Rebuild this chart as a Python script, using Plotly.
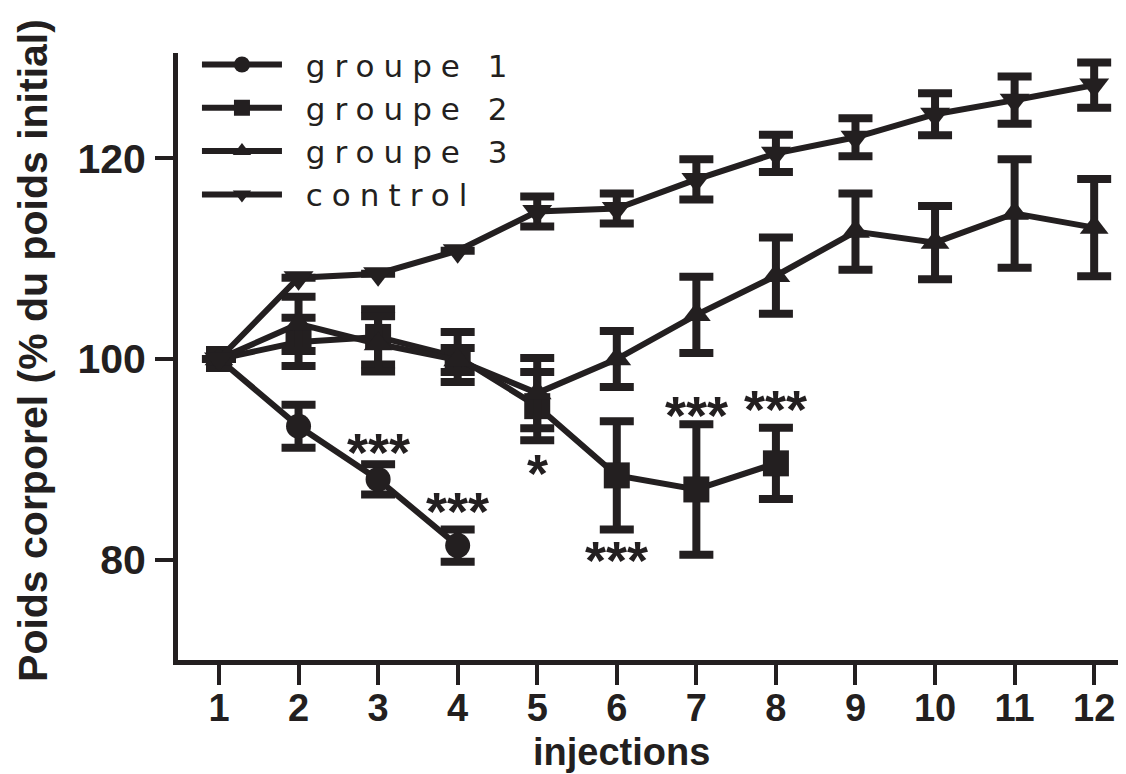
import plotly.graph_objects as go

# ---------------- data ----------------
injections = list(range(1, 13))

groupe1 = [100, 93.3, 88.0, 81.4]
groupe1_sem = [None, 2.15, 1.5, 1.6]

groupe2 = [100, 101.7, 102.2, 100.2, 95.3, 88.4, 87.0, 89.6]
groupe2_sem = [None, 2.4, 2.75, 2.5, 3.4, 5.4, 6.5, 3.55]

groupe3 = [100, 103.5, 101.5, 99.9, 96.6, 100.0, 104.4, 108.3, 112.7, 111.6, 114.5, 113.1]
groupe3_sem = [None, 2.7, 2.75, 1.2, 3.5, 2.8, 3.8, 3.8, 3.8, 3.65, 5.4, 4.85]

control = [100, 108.1, 108.5, 110.8, 114.7, 115.0, 117.9, 120.5, 122.1, 124.4, 125.8, 127.3]
control_sem = [None, None, None, None, 1.5, 1.5, 2.0, 1.85, 1.9, 2.1, 2.35, 2.25]

series_names = ["groupe 1", "groupe 2", "groupe 3", "control"]
y_ticks = [80, 100, 120]

# significance labels
sig_x = [3, 4, 5, 6, 7, 8]
sig_text = ["***", "***", "*", "***", "***", "***"]
sig_y = [90.7, 84.9, 88.6, 80.0, 94.4, 95.0]

# ---------------- style ----------------
INK = "#231f20"
FONT = "Liberation Sans, Arial, sans-serif"

series = [
    (groupe1, groupe1_sem, "circle", 25),
    (groupe2, groupe2_sem, "square", 26),
    (groupe3, groupe3_sem, "triangle-up", 25),
    (control, control_sem, "triangle-down", 26),
]

fig = go.Figure()
for name, (vals, sem, sym, msize) in zip(series_names, series):
    fig.add_trace(go.Scatter(
        x=injections[:len(vals)], y=vals,
        mode="lines+markers",
        name='<span style="letter-spacing:9px">\u00a0' + name + '</span>',
        line=dict(color=INK, width=6),
        marker=dict(symbol=sym, size=msize, color=INK),
        error_y=dict(type="data", array=sem, visible=True, color=INK,
                     thickness=8, width=17),
        cliponaxis=False,
    ))

for x, t, y in zip(sig_x, sig_text, sig_y):
    fig.add_annotation(x=x, y=y, text=t, showarrow=False,
                       font=dict(family=FONT, size=54, color=INK, weight="bold"),
                       xanchor="center", yanchor="middle")

fig.add_annotation(xref="paper", yref="paper", x=0.468, y=-0.1516,
                   text="injections", showarrow=False,
                   font=dict(family=FONT, size=38, color=INK, weight="bold"),
                   xanchor="center", yanchor="middle")
fig.add_annotation(xref="paper", yref="paper", x=-0.153, y=0.5107,
                   text="Poids corporel (% du poids initial)", showarrow=False,
                   textangle=-90,
                   font=dict(family=FONT, size=41, color=INK, weight="bold"),
                   xanchor="center", yanchor="middle")

axis_common = dict(
    showline=True, linecolor=INK, linewidth=5,
    ticks="outside", tickcolor=INK, tickwidth=4,
    showgrid=False, zeroline=False,
)

fig.update_layout(
    width=1126, height=774,
    margin=dict(l=170, r=8, t=45, b=122),
    paper_bgcolor="white", plot_bgcolor="white",
    xaxis=dict(range=[0.485, 12.40], tickvals=injections, ticklen=20,
               ticklabelstandoff=-10,
               tickfont=dict(family=FONT, size=38, color=INK, weight="bold"),
               **axis_common),
    yaxis=dict(range=[70, 130.5], tickvals=y_ticks, ticklen=18,
               ticklabelstandoff=1,
               tickfont=dict(family=FONT, size=41, color=INK, weight="bold"),
               **axis_common),
    legend=dict(x=0.02, y=1.025, xanchor="left", yanchor="top",
                font=dict(family="DejaVu Sans, sans-serif", size=31, color=INK),
                bgcolor="rgba(0,0,0,0)", itemwidth=80,
                tracegroupgap=0),
    showlegend=True,
)

fig.write_html("out.html")
